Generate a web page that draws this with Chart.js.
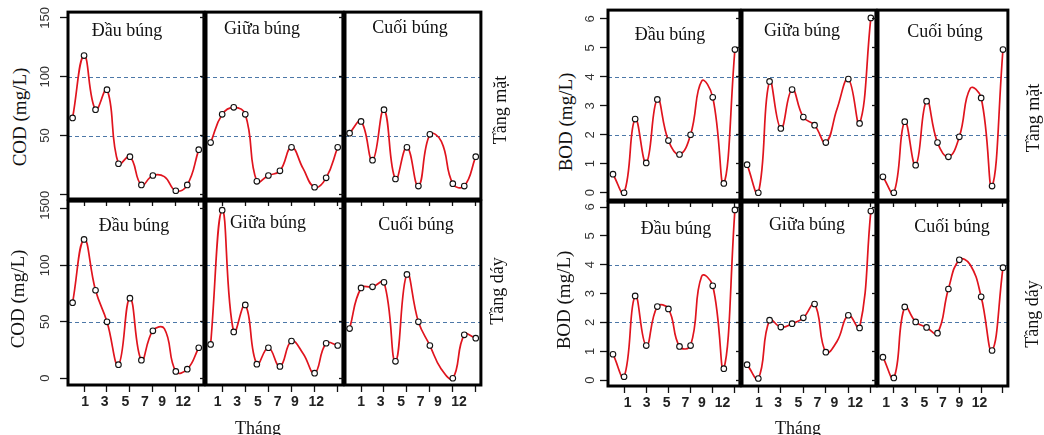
<!DOCTYPE html>
<html><head><meta charset="utf-8">
<script src="https://cdn.jsdelivr.net/npm/chart.js@4/dist/chart.umd.min.js"></script>
<style>
html,body{margin:0;padding:0;background:#fff;width:1044px;height:435px;overflow:hidden;position:relative;}
canvas{position:absolute;}
.t{position:absolute;transform:translate(-50%,-50%);white-space:nowrap;color:#111;font-family:"Liberation Serif",serif;line-height:1;}
.r{transform:translate(-50%,-50%) rotate(-90deg);}
</style></head><body>
<script>
// ---------- data ----------
const sampleIndex = [0,1,2,3,4,5,6,7,8,9,10,11];
const markerVisible = [1,1,1,1,1,1,1,1,0,1,1,1];
const monthTickValues = [1,3,5,7,9,11];
const monthTickLabels = ['1','3','5','7','9','12'];
const stations = ['Đầu búng','Giữa búng','Cuối búng'];
const layers = ['Tầng mặt','Tầng dáy'];
const codTicks = [0,50,100,150];
const bodTicks = [0,1,2,3,4,5,6];
const codRefLines = [50,100];
const bodRefLines = [2,4];

const codTopDau  = [65,118,72,89,26,32,8,16,15,3,8,38];
const codTopGiua = [44,68,74,68,11,16,20,40,22,6,14,40];
const codTopCuoi = [52,62,29,72,13,40,7,51,45,9,7,32];
const codBotDau  = [67,123,78,50,12,71,16,42,44,6,8,27];
const codBotGiua = [30,149,41,65,12.5,27,10.5,33,22,4.5,31,29];
const codBotCuoi = [44,80,81,85,15,92,50,29,8,0,38.5,35.5];

const bodTopDau  = [0.64,0,2.54,1.03,3.22,1.8,1.32,2.0,3.85,3.29,0.32,4.94];
const bodTopGiua = [0.97,0,3.84,2.22,3.56,2.61,2.33,1.73,2.9,3.92,2.39,6.03];
const bodTopCuoi = [0.55,0,2.45,0.95,3.16,1.73,1.24,1.93,3.6,3.27,0.23,4.94];
const bodBotDau  = [0.9,0.12,2.92,1.2,2.55,2.47,1.17,1.2,3.6,3.27,0.4,5.9];
const bodBotGiua = [0.54,0.06,2.08,1.84,1.96,2.16,2.64,0.97,1.35,2.25,1.81,5.86];
const bodBotCuoi = [0.8,0.08,2.54,2.02,1.83,1.63,3.16,4.17,4.0,2.89,1.03,3.9];

// ---------- layout (positions / styles) ----------
const monthLabelPattern = [0,1.7,3.5,5.2,6.7,8.55];
const codLabelShift = [1.1,0.6,1.0];
const bodLabelShift = [1.33,1.06,0.3];
const codCols = [[68,206],[206,345],[345,483]];
const codRows = [[10,199],[199,385]];
const bodCols = [[608,742],[742,878],[878,1010]];
const bodRows = [[8,200],[200,386]];
const codYRange = [[-4,155],[-6,157]];
const bodYRange = [[-0.25,6.3],[-0.2,6.17]];
const codXRange = [-0.4,11.45];
const bodXRange = [-0.45,11.45];
const PAD = 3;

const panelDecor = {
  id:'panelDecor',
  beforeDatasetsDraw(chart, args, opts) {
    const {ctx, chartArea:a} = chart; const y = chart.scales.y;
    ctx.save(); ctx.strokeStyle = '#4d78a8'; ctx.lineWidth = 1; ctx.setLineDash([4,3]);
    (opts.refLines||[]).forEach(v => {
      const py = Math.round(y.getPixelForValue(v)) + 0.5;
      ctx.beginPath(); ctx.moveTo(a.left, py); ctx.lineTo(a.right, py); ctx.stroke();
    });
    ctx.restore();
  },
  afterDraw(chart) {
    const {ctx, chartArea:a} = chart;
    ctx.save(); ctx.strokeStyle = '#000'; ctx.lineWidth = 3;
    ctx.strokeRect(a.left, a.top, a.right - a.left, a.bottom - a.top);
    ctx.restore();
  }
};

function makePanel(p) {
  const showY = p.col === 0;
  const bottomRow = p.row === 1;
  const yW = showY ? p.yAxisW : 6;
  const xTickH = 7;
  const x2H = bottomRow ? 30 : 0;
  const w = p.rect[2] - p.rect[0], h = p.rect[3] - p.rect[1];
  const cv = document.createElement('canvas');
  cv.width = w + yW + PAD; cv.height = h + PAD + xTickH + x2H;
  cv.style.left = (p.rect[0] - yW) + 'px';
  cv.style.top = (p.rect[1] - PAD) + 'px';
  document.body.appendChild(cv);
  const pts = [];
  sampleIndex.forEach((x, i) => { if (p.values[i] !== null) pts.push({x: x, y: p.values[i], m: markerVisible[i]}); });
  const scales = {
    x: {type:'linear', min:p.xRange[0], max:p.xRange[1], position:'bottom', weight:0,
      afterBuildTicks: s => { s.ticks = monthTickValues.map(v => ({value:v})); },
      ticks:{display:false},
      grid:{drawOnChartArea:false, drawTicks:true, tickLength:xTickH, tickColor:'#111', tickWidth:1.3},
      border:{display:false},
      afterFit: s => { s.height = xTickH; s.paddingLeft = 0; s.paddingRight = 0; }},
    y: {type:'linear', min:p.yRange[0], max:p.yRange[1], position:'left',
      afterBuildTicks: s => { s.ticks = p.yTicks.map(v => ({value:v})); },
      ticks:{display:showY, minRotation:90, maxRotation:90, crossAlign:'center', padding:p.yLabelPad,
        color:'#333', font:{family:'Liberation Sans', size:13}},
      grid:{drawOnChartArea:false, drawTicks:true, tickLength: showY ? 8 : 6, tickColor:'#111', tickWidth:1.3},
      border:{display:false},
      afterFit: s => { s.width = yW; s.paddingTop = 0; s.paddingBottom = 0; }}
  };
  if (bottomRow) {
    scales.x2 = {type:'linear', min:p.xRange[0], max:p.xRange[1], position:'bottom', weight:1,
      afterBuildTicks: s => { s.ticks = monthLabelPattern.map(v => ({value: v + p.labelShift})); },
      ticks:{display:true, autoSkip:false, minRotation:0, maxRotation:0, padding:2, color:'#222',
        font:{family:'Liberation Sans', size:14, weight:'bold'},
        callback: (v, i) => monthTickLabels[i]},
      grid:{display:false, drawTicks:false},
      border:{display:false},
      afterFit: s => { s.height = x2H; s.paddingLeft = 0; s.paddingRight = 0; }};
  }
  new Chart(cv, {
    type:'line',
    data:{datasets:[{data:pts, borderColor:'#e0141e', borderWidth:1.7, tension:0.45, spanGaps:true,
      capBezierPoints:false,
      pointRadius: c => (c.raw && c.raw.m ? 2.8 : 0),
      pointBorderColor:'#111', pointBackgroundColor:'#fff', pointBorderWidth:1.1, fill:false}]},
    options:{responsive:false, animation:false, devicePixelRatio:1,
      elements:{line:{capBezierPoints:false}},
      layout:{padding:{top:PAD, right:PAD, left:0, bottom:0}},
      plugins:{legend:{display:false}, tooltip:{enabled:false}, panelDecor:{refLines:p.refLines}},
      scales: scales},
    plugins:[panelDecor]
  });
}

const codData = [[codTopDau,codTopGiua,codTopCuoi],[codBotDau,codBotGiua,codBotCuoi]];
const bodData = [[bodTopDau,bodTopGiua,bodTopCuoi],[bodBotDau,bodBotGiua,bodBotCuoi]];
for (let r = 0; r < 2; r++) for (let c = 0; c < 3; c++) {
  makePanel({row:r, col:c, values:codData[r][c], rect:[codCols[c][0], codRows[r][0], codCols[c][1], codRows[r][1]],
    yRange:codYRange[r], xRange:codXRange, yTicks:codTicks, refLines:codRefLines, labelShift:codLabelShift[c],
    yAxisW:36, yLabelPad:4});
  makePanel({row:r, col:c, values:bodData[r][c], rect:[bodCols[c][0], bodRows[r][0], bodCols[c][1], bodRows[r][1]],
    yRange:bodYRange[r], xRange:bodXRange, yTicks:bodTicks, refLines:bodRefLines, labelShift:bodLabelShift[c],
    yAxisW:30, yLabelPad:6});
}

// ---------- text ----------
function addText(txt, x, y, size, rot) {
  const d = document.createElement('div');
  d.className = 't' + (rot ? ' r' : '');
  d.textContent = txt; d.style.left = x + 'px'; d.style.top = y + 'px'; d.style.fontSize = size + 'px';
  document.body.appendChild(d);
}
const titlePos = [
  [[127,30],[262,28],[410,27]], [[134,225],[268,222],[416,224]],
  [[670,34],[802,30],[945,31]], [[676,228],[807,224],[952,226]]
];
titlePos.forEach((row) => row.forEach((pos, c) => addText(stations[c], pos[0], pos[1], 18, false)));
addText('COD (mg/L)', 19, 117, 19, true);
addText('COD (mg/L)', 17, 299, 19, true);
addText('BOD (mg/L)', 565, 122, 19, true);
addText('BOD (mg/L)', 563, 300, 19, true);
addText(layers[0], 500, 110, 18, true);
addText(layers[1], 497, 291, 18, true);
addText(layers[0], 1033, 118, 18, true);
addText(layers[1], 1032, 314, 18, true);
addText('Tháng', 258, 428, 18, false);
addText('Tháng', 798, 428, 18, false);
</script>
</body></html>
